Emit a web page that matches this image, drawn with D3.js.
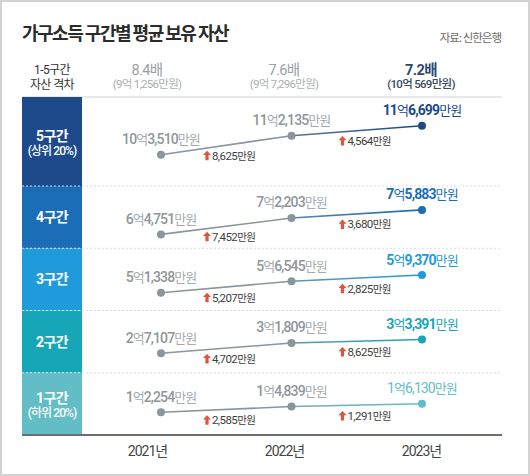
<!DOCTYPE html>
<html><head><meta charset="utf-8">
<script src="https://cdn.jsdelivr.net/npm/d3@7"></script>
<style>html,body{margin:0;padding:0;background:#fff;} svg{display:block;}</style>
</head><body>
<svg id="chart" width="530" height="476"></svg>
<script>
// ---------- data ----------
const years = ["2021년", "2022년", "2023년"];
const groups = ["5구간", "4구간", "3구간", "2구간", "1구간"];
const groupSubs = ["(상위 20%)", "", "", "", "(하위 20%)"];
// average assets, unit: 만원
const assets5 = [103510, 112135, 116699];
const assets4 = [64751, 72203, 75883];
const assets3 = [51338, 56545, 59370];
const assets2 = [27107, 31809, 33391];
const assets1 = [12254, 14839, 16130];
// increase labels as printed
const increases5 = ["8,625만원", "4,564만원"];
const increases4 = ["7,452만원", "3,680만원"];
const increases3 = ["5,207만원", "2,825만원"];
const increases2 = ["4,702만원", "8,625만원"];
const increases1 = ["2,585만원", "1,291만원"];
const gapRatios = ["8.4배", "7.6배", "7.2배"];
const gapAmounts = ["(9억 1,256만원)", "(9억 7,296만원)", "(10억 569만원)"];

const seriesValues = [assets5, assets4, assets3, assets2, assets1];
const seriesIncreases = [increases5, increases4, increases3, increases2, increases1];

// ---------- styles ----------
const groupColors = ["#1c4a8b", "#1b6db7", "#1f9bdc", "#17a6b8", "#63bdc7"];
const grayMark = "#8b959d";
const NUM = "Roboto, 'Noto Sans CJK KR', sans-serif";
const KR = "'Noto Sans CJK KR', sans-serif";

const svg = d3.select("#chart");
svg.append("rect").attr("x", 1).attr("y", 1).attr("width", 528).attr("height", 474)
  .attr("fill", "#fff").attr("stroke", "#d2d2d2").attr("stroke-width", 2);

// title
svg.append("text").attr("x", 22).attr("y", 40)
  .attr("font-family", KR).attr("font-size", 18).attr("font-weight", 700)
  .attr("letter-spacing", -1.5).attr("fill", "#2b2b2b")
  .text("가구소득 구간별 평균 보유 자산");
svg.append("text").attr("x", 501).attr("y", 42).attr("text-anchor", "end")
  .attr("font-family", KR).attr("font-size", 11.5).attr("letter-spacing", -1)
  .attr("fill", "#6a6a6a").text("자료: 신한은행");

// scales
const xText = d3.scalePoint().domain(years).range([147, 421]);
const xPt = d3.scalePoint().domain(years).range([161, 422]);

const bandLeft = 22, bandRight = 82, chartRight = 502;
const bandTop = 97, firstH = 89, otherH = 62.25;
const rows = groups.map((g, i) => {
  const top = i === 0 ? bandTop : bandTop + firstH + (i - 1) * otherH;
  const bottom = top + (i === 0 ? firstH : otherH);
  return { top, bottom, cy: i === 0 ? top + 41.7 : bottom - 27.5 };
});

// header
const hdr = svg.append("g");
hdr.append("text").attr("x", 52).attr("y", 73.5).attr("text-anchor", "middle")
  .attr("font-family", NUM).attr("font-size", 12).attr("letter-spacing", -0.6)
  .attr("fill", "#333").text("1-5구간");
hdr.append("text").attr("x", 52).attr("y", 89).attr("text-anchor", "middle")
  .attr("font-family", NUM).attr("font-size", 12).attr("letter-spacing", -0.6)
  .attr("fill", "#333").text("자산 격차");
years.forEach((y, i) => {
  const last = i === years.length - 1;
  hdr.append("text").attr("x", xText(y)).attr("y", 74.5).attr("text-anchor", "middle")
    .attr("font-family", NUM).attr("font-size", 14.5).attr("letter-spacing", -0.6)
    .attr("font-weight", last ? 700 : 400)
    .attr("fill", last ? "#2d4a73" : "#9aa0a6").text(gapRatios[i]);
  hdr.append("text").attr("x", xText(y)).attr("y", 88).attr("text-anchor", "middle")
    .attr("font-family", NUM).attr("font-size", 11.5).attr("letter-spacing", -0.7)
    .attr("font-weight", last ? 500 : 400)
    .attr("fill", last ? "#3a4a60" : "#aab0b5").text(gapAmounts[i]);
});
svg.append("line").attr("x1", bandLeft).attr("x2", chartRight).attr("y1", bandTop).attr("y2", bandTop)
  .attr("stroke", "#cfd2d5").attr("stroke-width", 1);

// bands
rows.forEach((r, i) => {
  svg.append("rect").attr("x", bandLeft).attr("y", r.top).attr("width", bandRight - bandLeft)
    .attr("height", r.bottom - r.top).attr("fill", groupColors[i]);
  const mid = (r.top + r.bottom) / 2;
  const hasSub = groupSubs[i] !== "";
  svg.append("text").attr("x", (bandLeft + bandRight) / 2).attr("y", hasSub ? mid - 1 : mid + 5)
    .attr("text-anchor", "middle").attr("font-family", NUM).attr("font-size", 14)
    .attr("font-weight", 700).attr("letter-spacing", -0.6).attr("fill", "#fff").text(groups[i]);
  if (hasSub) {
    svg.append("text").attr("x", (bandLeft + bandRight) / 2).attr("y", mid + 13)
      .attr("text-anchor", "middle").attr("font-family", NUM).attr("font-size", 12)
      .attr("font-weight", 500).attr("letter-spacing", -0.9).attr("fill", "#fff").text(groupSubs[i]);
  }
  if (i > 0) {
    svg.append("line").attr("x1", bandLeft).attr("x2", chartRight).attr("y1", r.top).attr("y2", r.top)
      .attr("stroke", "#d9dcdf").attr("stroke-width", 1).attr("stroke-dasharray", "2,2");
  }
});

// axis line and year labels
svg.append("line").attr("x1", bandLeft).attr("x2", chartRight).attr("y1", 435).attr("y2", 435)
  .attr("stroke", "#6b6f73").attr("stroke-width", 2);
const axis = svg.append("g").attr("transform", "translate(0,443)")
  .call(d3.axisBottom(xText).tickSize(0).tickPadding(0));
axis.select(".domain").remove();
axis.selectAll("text").attr("font-family", NUM).attr("font-size", 14)
  .attr("letter-spacing", -1).attr("fill", "#444").attr("dy", "0.95em");

const defs = svg.append("defs");
const fmt = d3.format(",");

function valueLabel(parent, v, x, y, numFill, krFill, numWeight, krWeight) {
  const eok = Math.floor(v / 10000), man = v % 10000;
  const parts = [[String(eok), true], ["억", false], [fmt(man), true], ["만원", false]];
  const t = parent.append("text").attr("x", x).attr("y", y).attr("text-anchor", "middle")
    .attr("letter-spacing", -0.9);
  parts.forEach(([s, isNum]) => {
    t.append("tspan").text(s)
      .attr("font-family", isNum ? NUM : KR)
      .attr("font-size", isNum ? 14 : 13)
      .attr("font-weight", isNum ? numWeight : krWeight)
      .attr("fill", isNum ? numFill : krFill);
  });
}

seriesValues.forEach((vals, i) => {
  const r = rows[i];
  const mean = d3.mean(vals);
  const y = d3.scaleLinear().domain([mean - 10000, mean + 10000]).range([r.cy + 22, r.cy - 22]);
  const color = groupColors[i];
  const g = svg.append("g");
  const pts = vals.map((v, j) => [xPt(years[j]), y(v)]);

  // gradient for the last segment
  const gid = "grad" + i;
  const grad = defs.append("linearGradient").attr("id", gid).attr("gradientUnits", "userSpaceOnUse")
    .attr("x1", pts[1][0]).attr("x2", pts[2][0]).attr("y1", 0).attr("y2", 0);
  grad.append("stop").attr("offset", 0).attr("stop-color", d3.interpolateRgb(grayMark, color)(0.45));
  grad.append("stop").attr("offset", 1).attr("stop-color", color);

  const line = d3.line();
  g.append("path").attr("d", line(pts.slice(0, 2))).attr("fill", "none")
    .attr("stroke", grayMark).attr("stroke-width", 1.6);
  g.append("path").attr("d", line(pts.slice(1, 3))).attr("fill", "none")
    .attr("stroke", `url(#${gid})`).attr("stroke-width", 1.6);

  g.selectAll("circle").data(vals).join("circle")
    .attr("cx", (d, j) => xPt(years[j])).attr("cy", d => y(d)).attr("r", 4)
    .attr("fill", (d, j) => j === vals.length - 1 ? color : grayMark);

  vals.forEach((v, j) => {
    const last = j === vals.length - 1;
    if (last) {
      valueLabel(g, v, xPt(years[j]), y(v) - 10.5, color, color, i === 4 ? 400 : 700, 400);
    } else {
      valueLabel(g, v, xPt(years[j]), y(v) - 10.5, "#8e969c", "#a4aaaf", 500, 400);
    }
  });

  // increase labels
  seriesIncreases[i].forEach((lab, j) => {
    const ax = pts[j][0] + (j === 0 ? 46 : 51);
    const cx = ax + 22;
    const t = (cx - pts[j][0]) / (pts[j + 1][0] - pts[j][0]);
    const ly = pts[j][1] + t * (pts[j + 1][1] - pts[j][1]);
    const cyL = ly + 11;
    const lg = g.append("g").attr("transform", `translate(${ax},${cyL})`);
    lg.append("path").attr("d", "M0,-5 L4,-0.8 L1.6,-0.8 L1.6,4.5 L-1.6,4.5 L-1.6,-0.8 L-4,-0.8 Z")
      .attr("fill", "#e2533f");
    const m = lab.match(/^([\d,]+)(.*)$/);
    const tt = lg.append("text").attr("x", 5).attr("y", 4).attr("letter-spacing", -0.6);
    tt.append("tspan").text(m[1]).attr("font-family", NUM).attr("font-size", 11.5).attr("fill", "#3d3d3d");
    tt.append("tspan").text(m[2]).attr("font-family", KR).attr("font-size", 10.5).attr("fill", "#3d3d3d");
  });
});
</script>
</body></html>
